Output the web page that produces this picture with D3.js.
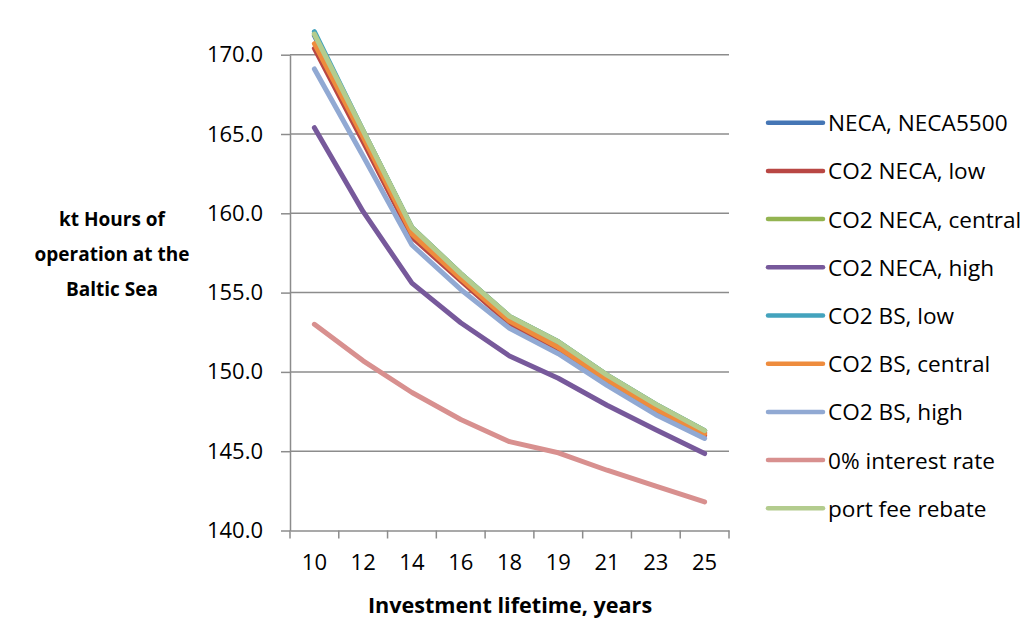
<!DOCTYPE html>
<html>
<head>
  <meta charset="utf-8">
  <title>Hours of operation</title>
  <script src="https://cdnjs.cloudflare.com/ajax/libs/d3/7.8.5/d3.min.js"></script>
  <style>
    body { margin: 0; background: #fff; }
    text { font-family: "Open Sans", "Noto Sans", sans-serif; fill: #000; }
    .grid line { stroke: #8c8c8c; stroke-width: 1.5px; }
    .axis path, .axis line { stroke: #8c8c8c; stroke-width: 1.5px; }
    .series { fill: none; stroke-width: 5px; stroke-linejoin: round; stroke-linecap: round; }
  </style>
</head>
<body>
  <svg width="1035" height="626"></svg>
  <script>
    // investment lifetime categories
    var years = ["10", "12", "14", "16", "18", "19", "21", "23", "25"];
    var yTicks = [140, 145, 150, 155, 160, 165, 170];

    var seriesNames = ["NECA, NECA5500", "CO2 NECA, low", "CO2 NECA, central", "CO2 NECA, high",
      "CO2 BS, low", "CO2 BS, central", "CO2 BS, high", "0% interest rate", "port fee rebate"];
    var seriesColors = ["#4576b5", "#b94744", "#93b451", "#77599b", "#43a3bd", "#ee8c3d",
      "#91a9d3", "#d8908f", "#b3cc8e"];

    // kt hours
    var neca       = [171.2, 165.1, 159.0, 156.1, 153.4, 151.8, 149.7, 147.9, 146.2];
    var co2NecaLow = [170.4, 164.5, 158.5, 155.75, 153.05, 151.4, 149.4, 147.55, 146.0];
    var co2NecaCen = [171.3, 165.2, 159.1, 156.2, 153.5, 151.9, 149.8, 147.95, 146.3];
    var co2NecaHi  = [165.4, 160.1, 155.6, 153.1, 151.0, 149.6, 147.9, 146.35, 144.85];
    var co2BsLow   = [171.45, 165.2, 159.1, 156.2, 153.5, 151.9, 149.8, 147.95, 146.3];
    var co2BsCen   = [170.7, 164.8, 158.7, 155.9, 153.2, 151.55, 149.5, 147.65, 146.1];
    var co2BsHi    = [169.1, 163.6, 158.0, 155.2, 152.75, 151.15, 149.15, 147.3, 145.8];
    var zeroRate   = [153.0, 150.7, 148.7, 147.0, 145.6, 144.9, 143.8, 142.8, 141.8];
    var portFee    = [171.3, 165.2, 159.1, 156.2, 153.5, 151.9, 149.8, 147.95, 146.3];

    var allValues = [neca, co2NecaLow, co2NecaCen, co2NecaHi, co2BsLow, co2BsCen, co2BsHi, zeroRate, portFee];

    var svg = d3.select("svg");
    var plotLeft = 290, plotRight = 729, plotTop = 54.7, plotBottom = 530.5;

    var x = d3.scaleBand().domain(years).range([plotLeft, plotRight]);
    var y = d3.scaleLinear().domain([140, 170]).range([plotBottom, plotTop]);

    // horizontal gridlines
    svg.append("g").attr("class", "grid")
      .selectAll("line")
      .data(yTicks.slice(1))
      .enter().append("line")
      .attr("x1", plotLeft).attr("x2", plotRight)
      .attr("y1", d => y(d)).attr("y2", d => y(d));

    // y axis
    var yAxis = svg.append("g").attr("class", "axis")
      .attr("transform", `translate(${plotLeft},0)`)
      .call(d3.axisLeft(y).tickValues(yTicks).tickSize(9).tickSizeOuter(0).tickPadding(18)
        .tickFormat(d3.format(".1f")));
    yAxis.selectAll("text").style("font-size", "22px");

    // x axis, ticks on category boundaries
    var xAxis = svg.append("g").attr("class", "axis")
      .attr("transform", `translate(0,${plotBottom})`)
      .call(d3.axisBottom(x).tickSize(0).tickPadding(24));
    xAxis.selectAll("text").style("font-size", "22px");
    xAxis.selectAll(".bound")
      .data(d3.range(years.length + 1))
      .enter().append("line")
      .attr("class", "bound")
      .attr("x1", i => plotLeft + i * x.step()).attr("x2", i => plotLeft + i * x.step())
      .attr("y1", 0).attr("y2", 8)
      .style("stroke", "#8c8c8c").style("stroke-width", "1.5px");

    // lines
    var line = d3.line()
      .x((d, i) => x(years[i]) + x.bandwidth() / 2)
      .y(d => y(d));

    svg.append("g")
      .selectAll("path")
      .data(allValues)
      .enter().append("path")
      .attr("class", "series")
      .attr("d", d => line(d))
      .style("stroke", (d, i) => seriesColors[i]);

    // axis titles
    var yTitle = ["kt Hours of", "operation at the", "Baltic Sea"];
    svg.append("g").selectAll("text")
      .data(yTitle)
      .enter().append("text")
      .attr("x", 112).attr("y", (d, i) => 219 + i * 35)
      .attr("text-anchor", "middle").attr("dominant-baseline", "central")
      .style("font-size", "19px").style("font-weight", "bold")
      .text(d => d);

    svg.append("text")
      .attr("x", 510).attr("y", 604)
      .attr("text-anchor", "middle").attr("dominant-baseline", "central")
      .style("font-size", "21.6px").style("font-weight", "bold")
      .text("Investment lifetime, years");

    // legend
    var legend = svg.append("g")
      .selectAll("g")
      .data(seriesNames)
      .enter().append("g")
      .attr("transform", (d, i) => `translate(768,${122.7 + i * 48.2})`);
    legend.append("line")
      .attr("x1", 0).attr("x2", 55)
      .style("stroke", (d, i) => seriesColors[i])
      .style("stroke-width", "4.5px").style("stroke-linecap", "round");
    legend.append("text")
      .attr("x", 60).attr("dominant-baseline", "central")
      .style("font-size", "22.6px")
      .text(d => d);
  </script>
</body>
</html>
